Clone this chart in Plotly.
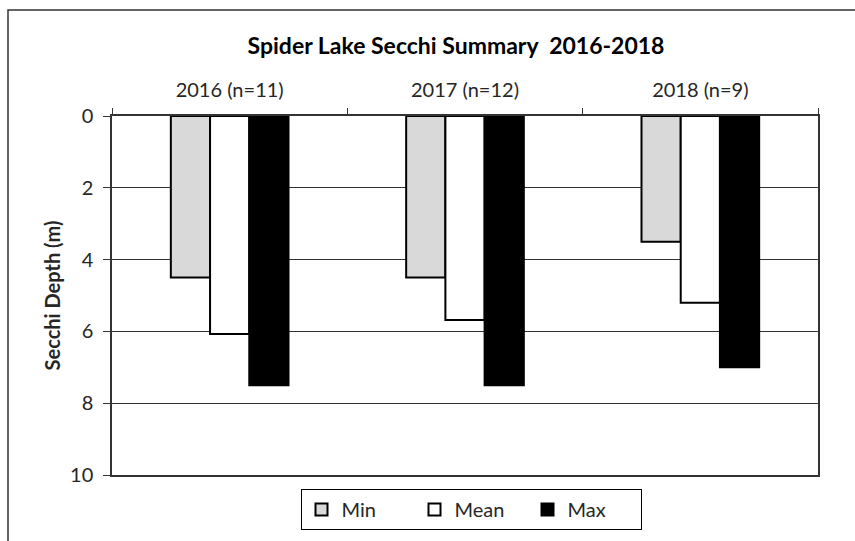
import plotly.graph_objects as go

categories = ["2016 (n=11)", "2017 (n=12)", "2018 (n=9)"]
min_vals = [4.5, 4.5, 3.5]
mean_vals = [6.07, 5.68, 5.2]
max_vals = [7.5, 7.5, 7.0]
y_ticks = [0, 2, 4, 6, 8, 10]

FONT = "Lato"

fig = go.Figure()
fig.add_trace(go.Bar(name="Min", x=categories, y=min_vals,
                     marker=dict(color="#d9d9d9", line=dict(color="black", width=2))))
fig.add_trace(go.Bar(name="Mean", x=categories, y=mean_vals,
                     marker=dict(color="white", line=dict(color="black", width=2))))
fig.add_trace(go.Bar(name="Max", x=categories, y=max_vals,
                     marker=dict(color="black", line=dict(color="black", width=2))))

# plot area: x 112..818, y 116..475
W, H = 855, 541
L, R, T, B = 112, 37, 116, 66
pw, ph = W - L - R, H - T - B

def px(x):
    return (x - L) / pw

def py(y):
    return (H - B - y) / ph

fig.update_layout(
    width=W, height=H,
    margin=dict(l=L, r=R, t=T, b=B),
    paper_bgcolor="white", plot_bgcolor="white",
    barmode="group", bargap=0.5, bargroupgap=0,
    font=dict(family=FONT, color="#262626"),
    title=dict(text="<b>Spider Lake Secchi Summary  2016-2018</b>",
               x=px(456), xref="paper", xanchor="center",
               y=1 - 46 / H, yanchor="middle",
               font=dict(size=23, color="black", family=FONT)),
    xaxis=dict(side="top", type="category", tickson="boundaries",
               ticks="outside", ticklen=6, tickcolor="#333", automargin=False,
               showline=True, linecolor="#333", linewidth=1.5, mirror=True,
               tickfont=dict(size=20, color="#262626"), ticklabelstandoff=9,
               showgrid=False),
    yaxis=dict(range=[10, 0], tickvals=y_ticks, ticks="outside", ticklen=7,
               tickcolor="#333", showline=True, linecolor="#333", linewidth=1.5,
               mirror=True, showgrid=True, gridcolor="#333", gridwidth=1,
               zeroline=False, tickfont=dict(size=20, color="#262626"),
               ticklabelstandoff=6, automargin=False,
               title=dict(text="<b>Secchi Depth (m)</b>", standoff=4,
                          font=dict(size=20, color="#262626"))),
    legend=dict(orientation="h", x=471 / W, xref="container", xanchor="center",
                y=1 - 489 / H, yref="container", yanchor="top",
                bordercolor="black", borderwidth=1, bgcolor="white",
                font=dict(size=20, color="#262626"),
                entrywidth=68, entrywidthmode="pixels",
                itemwidth=30, traceorder="normal"),
    shapes=[dict(type="rect", xref="paper", yref="paper",
                 x0=px(8), x1=px(900), y0=py(600), y1=py(10),
                 line=dict(color="#333", width=1.5), fillcolor="rgba(0,0,0,0)",
                 layer="below")],
)

fig.write_html("out.html")
